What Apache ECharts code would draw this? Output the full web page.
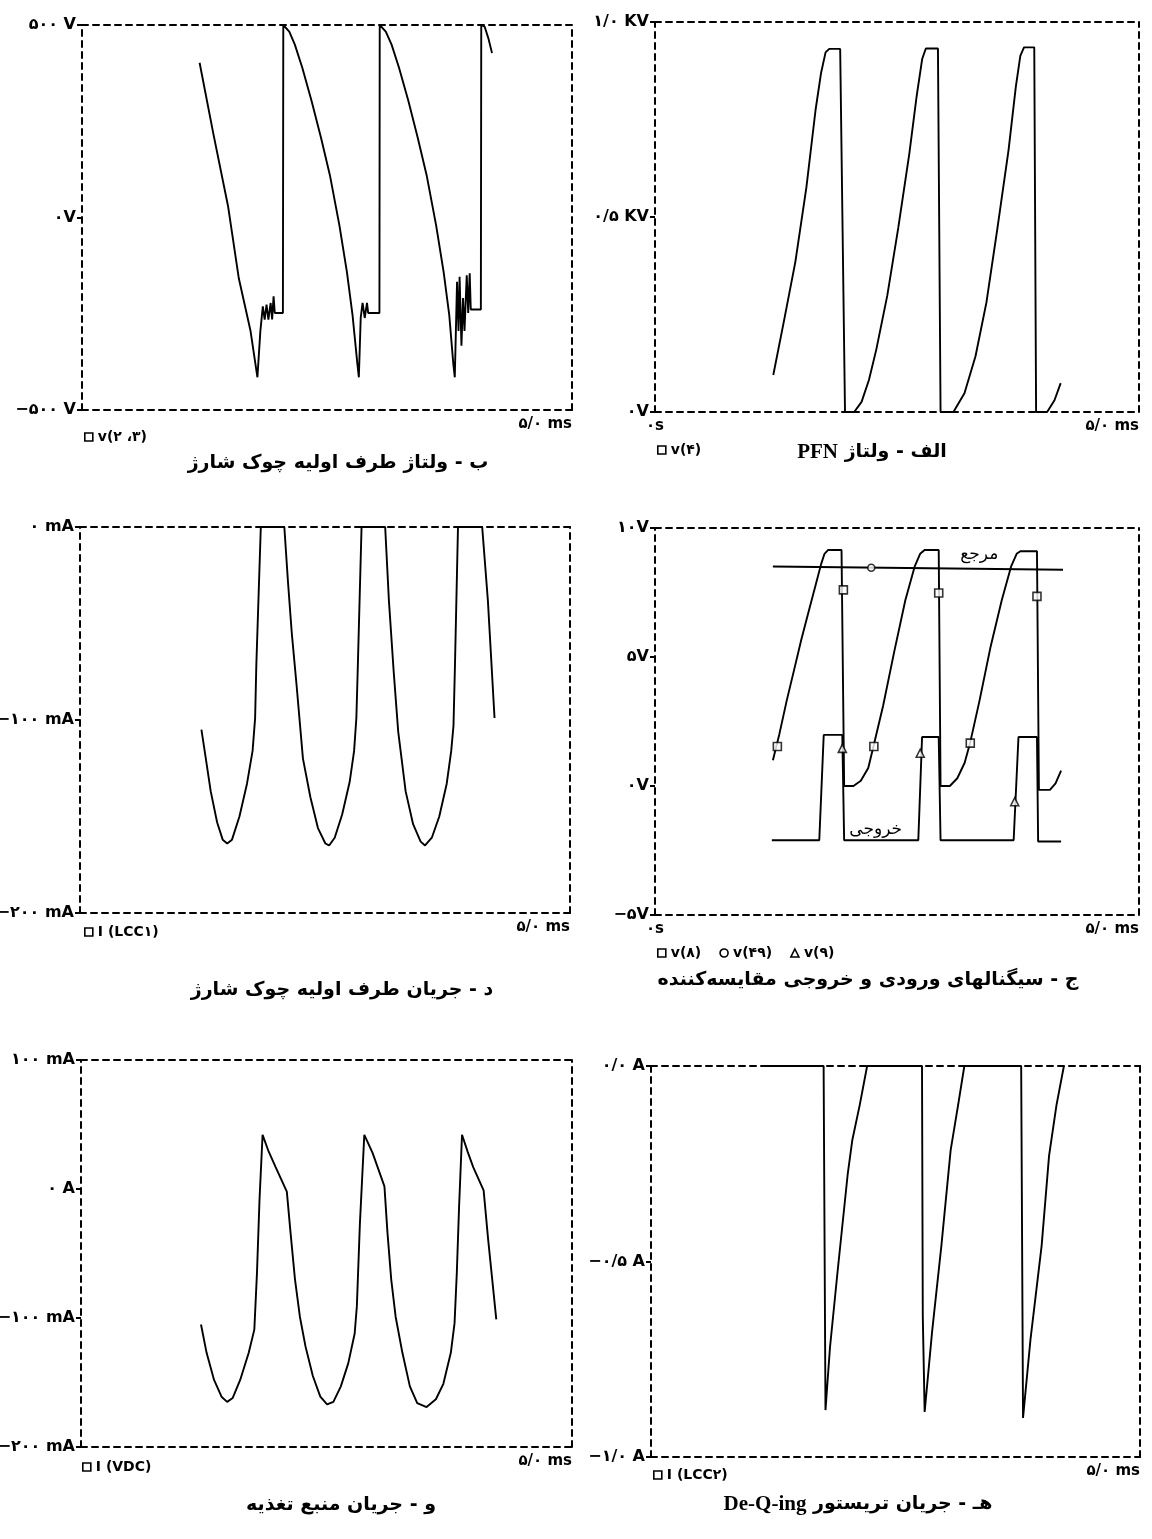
<!DOCTYPE html>
<html><head><meta charset="utf-8">
<script src="https://cdn.jsdelivr.net/npm/echarts@6/dist/echarts.min.js"></script>
<style>html,body{margin:0;padding:0;background:#fff}#c{width:1152px;height:1539px}</style>
</head><body><div id="c"></div>
<script>
// ---------- DATA (time in ms) ----------
// Panel ب : v(۲،۳)  [V]
const p1T = [1.20,1.34,1.49,1.60,1.72,1.79, 1.82,1.845,1.864,1.883,1.902,1.925,1.94,1.955,1.967,2.05,
  2.054,2.115,2.172,2.248,2.342,2.437,2.532,2.627,2.703,2.76,2.81,2.825,
  2.844,2.863,2.885,2.908,2.92,3.035,
  3.038,3.10,3.159,3.235,3.33,3.424,3.519,3.614,3.69,3.747,3.789,3.804,
  3.827,3.842,3.853,3.872,3.888,3.903,3.926,3.941,3.956,3.967,4.07,
  4.074,4.108,4.146,4.184];
const p1V = [402,218,30,-158,-295,-415, -295,-231,-265,-226,-265,-222,-265,-205,-248,-248,
  500,483,449,389,303,209,107,-21,-141,-252,-380,-415,
  -261,-222,-261,-222,-248,-248,
  500,483,449,389,303,209,107,-21,-141,-252,-380,-415,
  -167,-295,-154,-333,-209,-295,-150,-248,-145,-239,-239,
  500,496,466,427];
// Panel الف : v(۴)  [V]
const p2T = [1.222,1.336,1.45,1.564,1.659,1.716,1.762,1.80,1.913,
  1.963,2.058,2.134,2.21,2.286,2.40,2.513,2.627,2.703,2.76,2.798,2.923,
  2.95,3.083,3.197,3.311,3.424,3.538,3.652,3.728,3.774,3.812,3.918,
  3.937,4.051,4.127,4.191];
const p2V = [95,238,385,576,775,870,922,931,931,
  0,0,26,82,160,299,472,662,810,905,932,932,
  0,0,48,143,281,472,671,835,913,935,935,
  0,0,30,74];
// Panel د : I(LCC۱)  [mA]
const p3T = [1.239,1.284,1.334,1.399,1.456,1.502,1.551,1.627,1.704,1.761,1.787,1.799,1.845,
  2.085,2.123,2.161,2.21,2.275,2.351,2.428,2.504,2.542,2.599,2.675,2.752,2.797,2.82,2.835,2.873,
  3.114,3.152,3.201,3.247,3.323,3.399,3.476,3.521,3.59,3.666,3.742,3.788,3.811,3.826,3.857,
  4.104,4.162,4.23];
const p3I = [-105,-120,-137,-153,-162,-164,-162,-150,-133,-116,-99,-72,0,
  0,-29,-55,-82,-120,-140,-156,-164,-165,-161,-149,-132,-116,-99,-72,0,
  0,-38,-75,-106,-137,-154,-163,-165,-161,-150,-133,-116,-103,-72,0,
  0,-38,-99];
// Panel ج : v(۸), v(۴۹), v(۹)  [V]
const p4T8 = [1.218,1.284,1.36,1.437,1.513,1.59,1.667,1.716,1.751,1.789,1.927,1.954,
  2.05,2.126,2.203,2.261,2.356,2.471,2.586,2.682,2.739,2.785,2.931,2.95,
  3.046,3.123,3.199,3.257,3.352,3.467,3.582,3.678,3.736,3.774,3.946,3.966,
  4.08,4.138,4.195];
const p4V8 = [1.0,2.0,3.3,4.5,5.7,6.8,7.9,8.6,9.0,9.15,9.15,0,
  0,0.2,0.7,1.6,3.1,5.2,7.2,8.5,9.0,9.15,9.15,0,
  0,0.3,0.9,1.7,3.3,5.4,7.2,8.5,9.0,9.1,9.1,-0.15,
  -0.15,0.1,0.6];
const m8T = [1.264,1.946,2.261,2.931,3.257,3.946];
const m8V = [1.53,7.6,1.53,7.48,1.66,7.35];
const p4T49 = [1.218,4.215];
const p4V49 = [8.51,8.38];
const m49T = [2.234];
const m49V = [8.46];
const p4T9 = [1.207,1.697,1.743,1.935,1.954,2.72,2.759,2.931,2.95,3.705,3.755,3.946,3.958,4.195];
const p4V9 = [-2.1,-2.1,1.98,1.98,-2.1,-2.1,1.9,1.9,-2.1,-2.1,1.9,1.9,-2.15,-2.15];
const m9T = [1.935,2.74,3.716];
const m9V = [1.46,1.27,-0.61];
const annT = [3.35,2.28];
const annV = [8.97,-1.7];
const annText = ['مرجع','خروجی'];
// Panel و : I(VDC)  [mA]
const p5T = [1.222,1.279,1.355,1.431,1.488,1.545,1.621,1.708,1.765,1.792,1.818,1.849,
  1.906,1.982,2.096,
  2.134,2.179,2.229,2.286,2.361,2.437,2.506,2.57,2.646,2.722,2.787,2.809,2.84,2.885,
  2.969,3.09,
  3.121,3.159,3.204,3.273,3.349,3.424,3.519,3.614,3.69,3.766,3.804,3.827,3.85,3.88,
  3.937,3.994,4.1,4.146,4.229];
const p5I = [-105,-127,-148,-161,-165,-162,-148,-127,-109,-65,-8,42,
  30,17,-2,
  -34,-70,-99,-122,-145,-161,-167,-165,-153,-135,-112,-91,-27,42,
  28,2,
  -34,-70,-99,-127,-153,-166,-169,-163,-151,-127,-104,-65,-14,42,
  29,17,-1,-39,-101];
// Panel هـ : I(LCC۲)  [A]
const p6T = [1.184,1.765,1.784,1.83,1.906,2.012,2.058,2.134,2.21,2.771,2.779,2.798,2.874,2.969,3.064,3.14,3.204,3.785,3.804,3.88,3.994,4.07,4.146,4.222];
const p6I = [0,0,-0.88,-0.72,-0.53,-0.275,-0.19,-0.10,0,0,-0.64,-0.885,-0.68,-0.46,-0.215,-0.10,0,0,-0.90,-0.70,-0.46,-0.23,-0.10,0];

// tick values / labels
const y1Ticks = [-500,0,500], y1Labels = ['−۵۰۰ V','۰V','۵۰۰ V'];
const y2Ticks = [0,500,1000], y2Labels = ['۰V','۰/۵ KV','۱/۰ KV'];
const y3Ticks = [-200,-100,0], y3Labels = ['−۲۰۰ mA','−۱۰۰ mA','۰ mA'];
const y4Ticks = [-5,0,5,10], y4Labels = ['−۵V','۰V','۵V','۱۰V'];
const y5Ticks = [-200,-100,0,100], y5Labels = ['−۲۰۰ mA','−۱۰۰ mA','۰ A','۱۰۰ mA'];
const y6Ticks = [-1,-0.5,0], y6Labels = ['−۱/۰ A','−۰/۵ A','۰/۰ A'];
const xMaxLabel = '۵/۰ ms', xMinLabel = '۰s';

// ---------- BUILD ----------
const FONT = 'DejaVu Sans';
const zip = (a, b) => a.map((v, i) => [v, b[i]]);
const dashed = {show: true, onZero: false, lineStyle: {color: '#000', width: 2, type: [6, 5]}};

const panels = [
  {grid:{left:82, top:25, width:490, height:385}, ticks:y1Ticks, labels:y1Labels, zeroS:false,
   title:{text:'ب - ولتاژ طرف اولیه چوک شارژ', cx:338, top:449},
   legend:{left:84, top:430}},
  {grid:{left:655, top:22, width:484, height:390}, ticks:y2Ticks, labels:y2Labels, zeroS:true,
   title:{text:'{b|PFN} {a|الف - ولتاژ}', cx:872, top:437},
   legend:{left:657, top:443}},
  {grid:{left:80, top:527, width:490, height:386}, ticks:y3Ticks, labels:y3Labels, zeroS:false,
   title:{text:'د - جریان طرف اولیه چوک شارژ', cx:342, top:976},
   legend:{left:84, top:925}},
  {grid:{left:655, top:528, width:484, height:387}, ticks:y4Ticks, labels:y4Labels, zeroS:true,
   title:{text:'ج - سیگنالهای ورودی و خروجی مقایسه‌کننده', cx:868, top:966},
   legend:{left:657, top:946}},
  {grid:{left:81, top:1060, width:491, height:387}, ticks:y5Ticks, labels:y5Labels, zeroS:false,
   title:{text:'و - جریان منبع تغذیه', cx:341, top:1491},
   legend:{left:82, top:1460}},
  {grid:{left:651, top:1066, width:489, height:391}, ticks:y6Ticks, labels:y6Labels, zeroS:false,
   title:{text:'{b|De-Q-ing} {a|هـ - جریان تریستور}', cx:858, top:1489},
   legend:{left:653, top:1468}}
];

const grids = [], xAxes = [], yAxes = [], titles = [], legends = [];
panels.forEach((p, i) => {
  grids.push(Object.assign({containLabel:false, outerBoundsMode:'none'}, p.grid));
  const t = p.ticks;
  xAxes.push({type:'value', gridIndex:i, min:0, max:5, interval:5, position:'bottom',
    axisLine: dashed, axisTick:{show:false}, splitLine:{show:false},
    axisLabel:{color:'#000', fontFamily:FONT, fontWeight:'bold', fontSize:15, margin:7,
      alignMaxLabel:'right', alignMinLabel:'center', showMinLabel:true, showMaxLabel:true,
      formatter: v => v === 5 ? xMaxLabel : (v === 0 && p.zeroS ? xMinLabel : '')}});
  xAxes.push({type:'value', gridIndex:i, min:0, max:5, position:'top',
    axisLine: dashed, axisTick:{show:false}, axisLabel:{show:false}, splitLine:{show:false}});
  yAxes.push({type:'value', gridIndex:i, min:t[0], max:t[t.length-1], interval:t[1]-t[0], position:'left',
    axisLine: dashed, axisTick:{show:true, length:5, lineStyle:{color:'#000', width:2}}, splitLine:{show:false},
    axisLabel:{color:'#000', fontFamily:FONT, fontWeight:'bold', fontSize:16, margin:6,
      formatter: v => { const k = t.findIndex(x => Math.abs(x - v) < 1e-9); return k >= 0 ? p.labels[k] : ''; }}});
  yAxes.push({type:'value', gridIndex:i, min:t[0], max:t[t.length-1], position:'right',
    axisLine: dashed, axisTick:{show:false}, axisLabel:{show:false}, splitLine:{show:false}});
  titles.push({text:p.title.text, left:p.title.cx - 5, top:p.title.top, textAlign:'center',
    textStyle:{fontFamily:FONT, fontWeight:'bold', fontSize:19, color:'#000',
      rich:{a:{fontFamily:FONT, fontWeight:'bold', fontSize:19, color:'#000'},
            b:{fontFamily:'Liberation Serif', fontWeight:'bold', fontSize:21, color:'#000'}}}});
});

const lineBase = (name, i, data) => ({name, type:'line', xAxisIndex:2*i, yAxisIndex:2*i, data,
  showSymbol:false, symbol:'none', lineStyle:{color:'#000', width:1.9}, itemStyle:{color:'#000'},
  z:3, silent:true});
const markBase = (name, i, data, sym, size) => ({name, type:'scatter', xAxisIndex:2*i, yAxisIndex:2*i, data,
  symbol:sym, symbolSize:size, itemStyle:{color:'#fff', borderColor:'#000', borderWidth:1.6}, z:5, silent:true});

const series = [
  lineBase('v(۲ ،۳)', 0, zip(p1T, p1V)),
  lineBase('v(۴)', 1, zip(p2T, p2V)),
  lineBase('I (LCC۱)', 2, zip(p3T, p3I)),
  lineBase('v(۸)', 3, zip(p4T8, p4V8)),
  Object.assign(lineBase('v(۴۹)', 3, zip(p4T49, p4V49)), {
    markPoint:{symbol:'circle', symbolSize:1, itemStyle:{color:'rgba(0,0,0,0)'},
      label:{show:true, position:'inside', color:'#000', fontFamily:FONT, fontSize:17, formatter:'{b}'},
      data: annText.map((s, k) => ({name:s, coord:[annT[k], annV[k]]}))}}),
  lineBase('v(۹)', 3, zip(p4T9, p4V9)),
  markBase('v(۸)', 3, zip(m8T, m8V), 'rect', 8),
  markBase('v(۴۹)', 3, zip(m49T, m49V), 'circle', 7),
  markBase('v(۹)', 3, zip(m9T, m9V), 'triangle', 8),
  lineBase('I (VDC)', 4, zip(p5T, p5I)),
  lineBase('I (LCC۲)', 5, zip(p6T, p6I))
];

const legendNames = [
  [['v(۲ ،۳)','rect']], [['v(۴)','rect']], [['I (LCC۱)','rect']],
  [['v(۸)','rect'],['v(۴۹)','circle'],['v(۹)','triangle']],
  [['I (VDC)','rect']], [['I (LCC۲)','rect']]
];
panels.forEach((p, i) => {
  legends.push({left:p.legend.left, top:p.legend.top, padding:0, itemGap:18, itemWidth:8, itemHeight:8,
    selectedMode:false, orient:'horizontal',
    data: legendNames[i].map(([n, ic]) => ({name:n, icon:ic})),
    itemStyle:{color:'#fff', borderColor:'#000', borderWidth:1.6},
    textStyle:{color:'#000', fontFamily:FONT, fontWeight:'bold', fontSize:14}});
});

const chart = echarts.init(document.getElementById('c'), null, {renderer:'canvas'});
chart.setOption({
  backgroundColor:'#fff', animation:false,
  title: titles, legend: legends, grid: grids, xAxis: xAxes, yAxis: yAxes, series
});
</script>
</body></html>
